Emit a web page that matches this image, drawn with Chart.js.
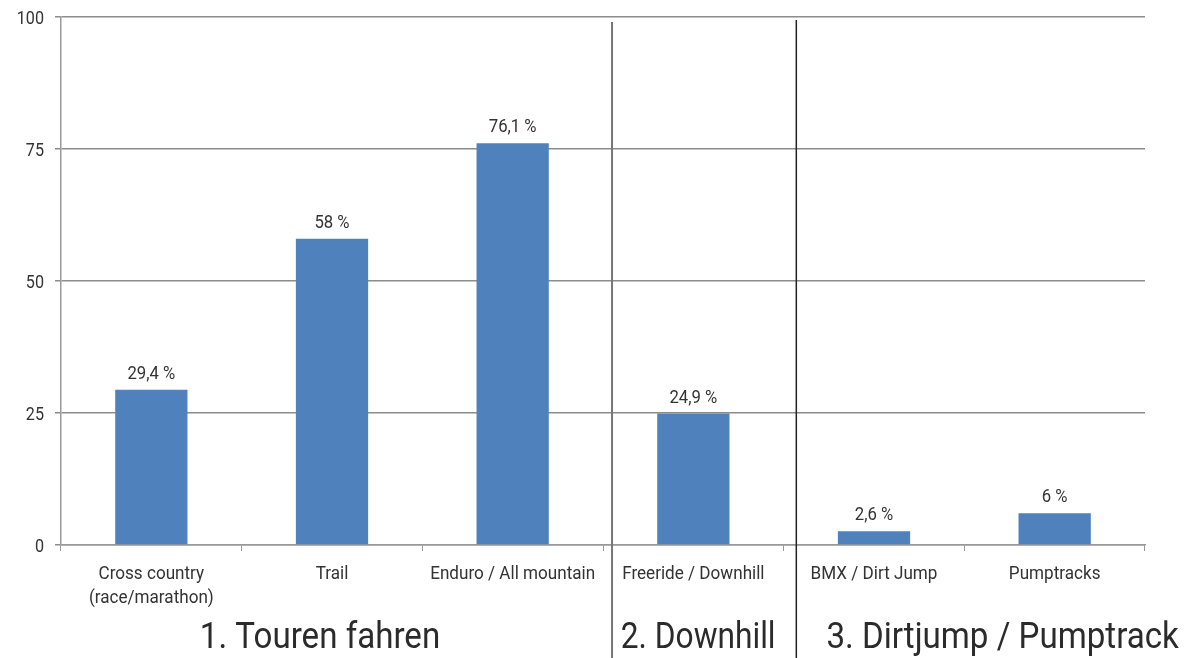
<!DOCTYPE html>
<html>
<head>
<meta charset="utf-8">
<script src="https://cdn.jsdelivr.net/npm/chart.js@4/dist/chart.umd.min.js"></script>
<style>
	html, body { margin: 0; padding: 0; background: #fff; }
	#wrap { width: 1189px; height: 658px; position: relative; }
</style>
</head>
<body>
<div id="wrap"><canvas id="barChart"></canvas></div>
<script>
var categories = [['Cross country', '(race/marathon)'], 'Trail', 'Enduro / All mountain', 'Freeride / Downhill', 'BMX / Dirt Jump', 'Pumptracks'];
var shares = [29.4, 58, 76.1, 24.9, 2.6, 6];
var shareLabels = ['29,4 %', '58 %', '76,1 %', '24,9 %', '2,6 %', '6 %'];
var yTicks = [0, 25, 50, 75, 100];
var groups = ['1. Touren fahren', '2. Downhill', '3. Dirtjump / Pumptrack'];
// separators sit a little right of the category boundaries
var separators = [2.55, 3.57];

var font = 'Roboto, "Noto Sans", sans-serif';

// condensed look: squeeze text horizontally
function narrowText(ctx, text, x, y, size, squeeze, align) {
	ctx.save();
	ctx.font = size + 'px ' + font;
	ctx.textAlign = align || 'center';
	ctx.textBaseline = 'alphabetic';
	ctx.translate(x, y);
	ctx.scale(squeeze, 1);
	ctx.fillText(text, 0, 0);
	ctx.restore();
}

var extras = {
	id: 'extras',
	afterDatasetsDraw: function(chart) {
		var ctx = chart.ctx;
		var meta = chart.getDatasetMeta(0);
		ctx.fillStyle = '#333';
		meta.data.forEach(function(bar, i) {
			narrowText(ctx, shareLabels[i], bar.x, bar.y - 11, 19, 0.88);
		});
	},
	afterDraw: function(chart) {
		var ctx = chart.ctx;
		var x = chart.scales.x;
		var y = chart.scales.y;
		var area = chart.chartArea;
		ctx.save();
		ctx.fillStyle = '#333';

		// y tick labels
		yTicks.forEach(function(v) {
			narrowText(ctx, String(v), area.left - 17, y.getPixelForValue(v) + 7, 19, 0.85, 'right');
		});

		// x tick labels
		categories.forEach(function(c, i) {
			var lines = Array.isArray(c) ? c : [c];
			var px = x.getPixelForTick(i);
			lines.forEach(function(l, j) {
				narrowText(ctx, l, px, area.bottom + 34 + j * 24, 18, 0.95);
			});
		});

		ctx.lineWidth = 2;
		ctx.strokeStyle = '#777';
		var p1 = x.getPixelForValue(separators[0]);
		ctx.beginPath(); ctx.moveTo(p1, area.top + 5); ctx.lineTo(p1, chart.height); ctx.stroke();
		ctx.strokeStyle = '#222';
		ctx.lineWidth = 1.5;
		var p2 = x.getPixelForValue(separators[1]);
		ctx.beginPath(); ctx.moveTo(p2, area.top + 3); ctx.lineTo(p2, chart.height); ctx.stroke();

		ctx.fillStyle = '#2b2b2b';
		var centers = [
			x.getPixelForValue(1) - 12,
			(p1 + p2) / 2 - 6,
			(p2 + chart.width) / 2 + 10
		];
		groups.forEach(function(g, i) {
			narrowText(ctx, g, centers[i], 648, 36, i === 1 ? 0.88 : 0.92);
		});
		ctx.restore();
	}
};

new Chart(document.getElementById('barChart'), {
	type: 'bar',
	data: {
		labels: categories,
		datasets: [{
			data: shares,
			backgroundColor: '#4f81bd',
			borderWidth: 0,
			barPercentage: 0.4,
			categoryPercentage: 1
		}]
	},
	options: {
		responsive: true,
		maintainAspectRatio: false,
		animation: false,
		layout: { padding: { top: 17, right: 44, left: 0, bottom: 0 } },
		plugins: { legend: { display: false }, tooltip: { enabled: false } },
		scales: {
			x: {
				afterFit: function(s) { s.height = 113; },
				grid: { drawOnChartArea: false, drawTicks: true, tickLength: 6, color: '#999', offset: true },
				border: { color: '#999', width: 1.5 },
				ticks: { display: false }
			},
			y: {
				min: 0,
				max: 100,
				afterFit: function(s) { s.width = 61; },
				afterBuildTicks: function(s) { s.ticks = yTicks.map(function(v) { return { value: v }; }); },
				grid: { color: '#8c8c8c', lineWidth: 1.5, tickLength: 6 },
				border: { color: '#999', width: 1.5 },
				ticks: { display: false }
			}
		}
	},
	plugins: [extras]
});
</script>
</body>
</html>
